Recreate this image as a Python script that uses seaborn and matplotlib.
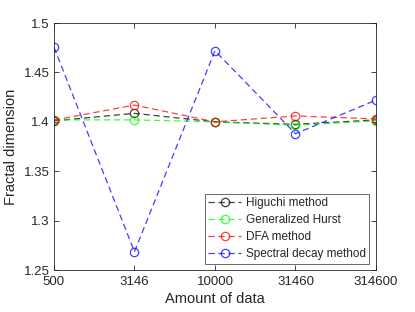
import matplotlib
matplotlib.use("Agg")
import matplotlib.pyplot as plt
import seaborn as sns
import pandas as pd

x_labels = ["500", "3146", "10000", "31460", "314600"]
higuchi = [1.401, 1.4086, 1.400, 1.3975, 1.402]
hurst = [1.402, 1.402, 1.400, 1.3965, 1.401]
dfa = [1.4018, 1.417, 1.400, 1.406, 1.403]
spectral = [1.4757, 1.2685, 1.472, 1.388, 1.422]

names = ["Higuchi method", "Generalized Hurst", "DFA method", "Spectral decay method"]
series = [higuchi, hurst, dfa, spectral]
colors = ["#000000", "#00ff00", "#ff0000", "#0000ff"]

rows = []
for n, s in zip(names, series):
    for i, v in enumerate(s):
        rows.append({"pos": i, "value": v, "method": n})
df = pd.DataFrame(rows)

sns.set_style("white")
plt.rcParams["font.family"] = ["Liberation Sans", "DejaVu Sans"]

fig = plt.figure(figsize=(4.15, 3.12), dpi=100)
ax = fig.add_axes([0.130, 0.1346, 0.776, 0.7914])

for n, c in zip(names, colors):
    sub = df[df["method"] == n]
    sns.lineplot(data=sub, x="pos", y="value", ax=ax, color=c, alpha=0.75,
                 linestyle=(0, (5, 3)), linewidth=0.9, marker="o", markersize=6,
                 markerfacecolor="none", markeredgecolor=c, markeredgewidth=0.9,
                 label=n)

ax.set_xlim(0, 4)
ax.set_ylim(1.25, 1.5)
ax.set_xticks(range(5))
ax.set_xticklabels(x_labels)
ax.set_yticks([1.25, 1.3, 1.35, 1.4, 1.45, 1.5])
ax.set_yticklabels(["1.25", "1.3", "1.35", "1.4", "1.45", "1.5"])
ax.tick_params(direction="in", length=3.5, width=0.6, labelsize=9.5, colors="#262626",
               bottom=True, left=True, top=True, right=True)
ax.tick_params(axis="x", pad=4)
ax.tick_params(axis="y", pad=3)
for sp in ax.spines.values():
    sp.set_visible(True)
    sp.set_color("#262626")
    sp.set_linewidth(0.6)
ax.set_xlabel("Amount of data", fontsize=10.5, color="#262626", labelpad=3)
ax.set_ylabel("Fractal dimension", fontsize=10.5, color="#262626", labelpad=4)

leg = ax.legend(loc="lower right", fontsize=8.5, frameon=True, fancybox=False,
                borderaxespad=0.55, handlelength=2.8, handletextpad=0.4,
                labelspacing=0.42, borderpad=0.3)
leg.get_frame().set_edgecolor("#262626")
leg.get_frame().set_linewidth(0.6)

fig.savefig("out.png", dpi=100)
